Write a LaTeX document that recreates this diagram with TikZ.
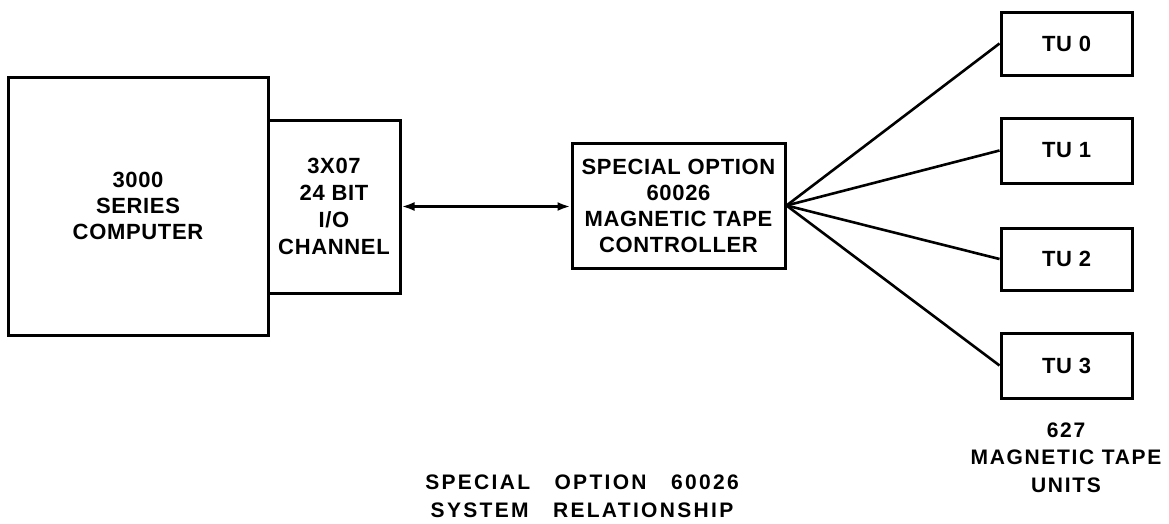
\documentclass[tikz,border=0pt]{standalone}
\usepackage{fontspec}
\setmainfont{Liberation Sans}[LetterSpace=3]
\usetikzlibrary{arrows.meta}
\begin{document}
\begin{tikzpicture}[x=1pt,y=-1pt,
  >={Latex[length=13pt,width=9pt]},
  box/.style={draw, line width=3pt, inner sep=0pt, align=center,
    font=\fontsize{22}{26}\selectfont\bfseries},
  lbl/.style={align=center, inner sep=0pt},
  conn/.style={line width=2.6pt}]
\useasboundingbox (0,0) rectangle (1169,523);
\fill[white] (0,0) rectangle (1169,523);
% boxes
\node[box, minimum width=260pt, minimum height=258pt] (comp) at (138,206) {3000\\SERIES\\COMPUTER};
\node[box, minimum width=132pt, minimum height=173pt, font=\fontsize{22}{27}\selectfont\bfseries] (chan) at (334,206.5) {3X07\\24 BIT\\I/O\\CHANNEL};
\node[box, minimum width=213pt, minimum height=125pt] (ctrl) at (678.5,205.5) {SPECIAL OPTION\\60026\\MAGNETIC TAPE\\CONTROLLER};
\node[box, minimum width=131pt, minimum height=63pt] (tu0) at (1066.5,43.5) {TU 0};
\node[box, minimum width=131pt, minimum height=65pt] (tu1) at (1066.5,150.5) {TU 1};
\node[box, minimum width=131pt, minimum height=62pt] (tu2) at (1066.5,259) {TU 2};
\node[box, minimum width=131pt, minimum height=65pt] (tu3) at (1066.5,365.5) {TU 3};
% connectors
\draw[conn, <->] (chan.east) -- (chan.east -| ctrl.west);
\foreach \t in {tu0,tu1,tu2,tu3} \draw[conn] (ctrl.east) -- (\t.west);
% labels
\node[lbl, font=\fontsize{21}{27.5}\selectfont\bfseries\addfontfeature{LetterSpace=8}] (units) at (1066,457.5) {627\\MAGNETIC TAPE\\UNITS};
\node[lbl, font=\fontsize{21}{28}\selectfont\bfseries\addfontfeature{LetterSpace=11}] (title) at (582,496) {SPECIAL\ \ \ OPTION\ \ \ 60026\\SYSTEM\ \ \ RELATIONSHIP};
\end{tikzpicture}
\end{document}
